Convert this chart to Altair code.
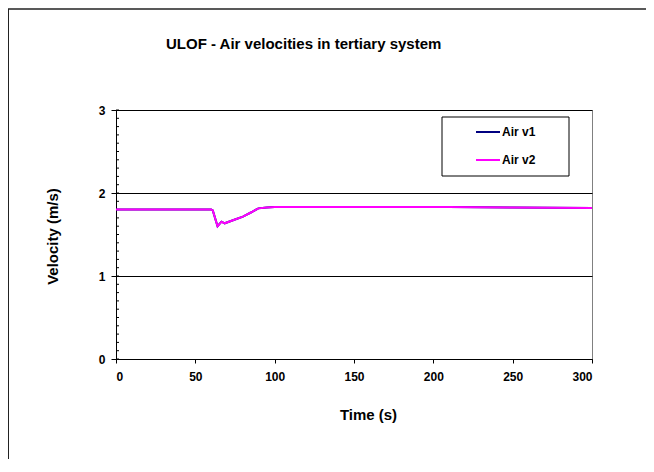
import altair as alt
import pandas as pd
import numpy as np

# Time (s) and velocity (m/s)
time_s = [0, 30, 60, 61, 64, 66.5, 68.5, 75, 80, 85, 89.7, 95, 100, 150, 210, 250, 300]
air_v1 = [1.80, 1.80, 1.80, 1.79, 1.60, 1.655, 1.635, 1.68, 1.715, 1.765, 1.815, 1.825, 1.83, 1.83, 1.83, 1.825, 1.82]
air_v2 = [1.80, 1.80, 1.80, 1.79, 1.60, 1.655, 1.635, 1.68, 1.715, 1.765, 1.815, 1.825, 1.83, 1.83, 1.83, 1.825, 1.82]
series = ["Air v1", "Air v2"]
colors = ["#000080", "#FF00FF"]

x_ticks = [0, 50, 100, 150, 200, 250, 300]
y_major = [0, 1, 2, 3]
y_minor = [round(v, 1) for v in np.arange(0, 3.01, 0.1)]

FONT = "Liberation Sans"

df = pd.DataFrame({
    "t": time_s * 2,
    "v": air_v1 + air_v2,
    "s": [series[0]] * len(time_s) + [series[1]] * len(time_s),
})
minor_df = pd.DataFrame({"y": y_minor})

W, H = 476, 249

x_scale = alt.Scale(domain=[0, 300], nice=False, zero=False)
y_scale = alt.Scale(domain=[0, 3], nice=False)

lines = alt.Chart(df).mark_line(strokeWidth=2).encode(
    x=alt.X("t:Q", scale=x_scale,
            axis=alt.Axis(title="Time (s)", values=x_ticks, grid=False,
                          tickSize=4, labelPadding=8, domainColor="#000", tickColor="#000",
                          titleX=252, titleY=55, titleBaseline="middle")),
    y=alt.Y("v:Q", scale=y_scale,
            axis=alt.Axis(title="Velocity (m/s)", values=y_major, format="d",
                          grid=True, gridColor="#000", tickSize=5, labelPadding=6,
                          domainColor="#000", tickColor="#000",
                          titleX=-64, titleY=126, titleAngle=-90,
                          titleBaseline="middle", titleAlign="center")),
    color=alt.Color("s:N", scale=alt.Scale(domain=series, range=colors),
                    legend=alt.Legend(title=None, orient="none", legendX=359, legendY=9,
                                      symbolType="stroke", symbolSize=576, symbolStrokeWidth=2,
                                      labelFont=FONT, labelFontSize=12, labelFontWeight="bold",
                                      labelColor="#000", labelOffset=1, rowPadding=9, padding=0)),
)

minor = alt.Chart(minor_df).mark_rule(color="#000", strokeWidth=1).encode(
    y=alt.Y("y:Q", scale=y_scale),
    x=alt.value(0), x2=alt.value(3),
)

legend_box = alt.Chart(pd.DataFrame({"a": [0]})).mark_rect(
    fill="white", stroke="#000", strokeWidth=1
).encode(x=alt.value(326), x2=alt.value(453), y=alt.value(7), y2=alt.value(66))

frame_left = alt.Chart(pd.DataFrame({"a": [0]})).mark_rule(color="#222", strokeWidth=2).encode(
    x=alt.value(-108), y=alt.value(-101), y2=alt.value(370))
frame_top = alt.Chart(pd.DataFrame({"a": [0]})).mark_rule(color="#222", strokeWidth=1.5).encode(
    x=alt.value(-108), x2=alt.value(530), y=alt.value(-101))

chart = alt.layer(frame_left, frame_top, legend_box, minor, lines).properties(
    width=W, height=H,
    title=alt.TitleParams("ULOF - Air velocities in tertiary system", anchor="start", dx=159,
                          font=FONT, fontSize=15, fontWeight="bold", color="#000",
                          offset=0, dy=44),
    autosize=alt.AutoSizeParams(type="none"),
    padding={"left": 108, "top": 102, "right": 54, "bottom": 100},
).configure_axis(
    labelFont=FONT, labelFontSize=12, labelFontWeight="bold", labelColor="#000",
    titleFont=FONT, titleFontSize=15, titleFontWeight="bold", titleColor="#000",
    gridWidth=1, domainWidth=1,
).configure_view(stroke="#808080", strokeWidth=1)

chart.save("out.html", embed_options={"renderer": "svg", "actions": False})
